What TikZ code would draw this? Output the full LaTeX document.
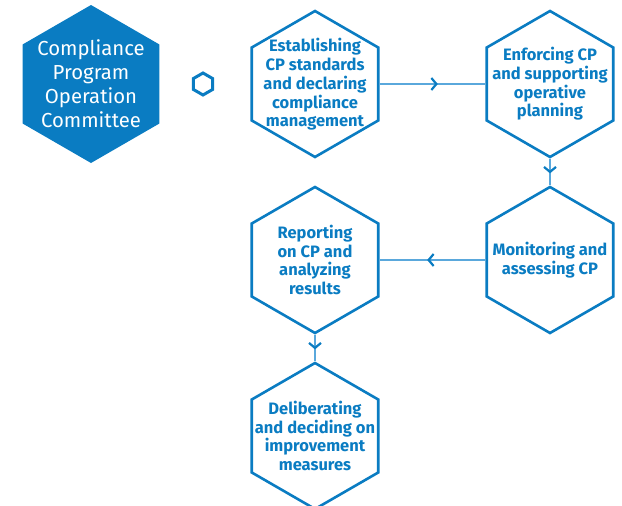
\documentclass[tikz,border=0pt]{standalone}
\usepackage{fontspec}
\setmainfont{Fira Sans}
\usetikzlibrary{shapes.geometric,arrows.meta,decorations.markings}
\definecolor{cpblue}{HTML}{0A7CC2}
\definecolor{cpline}{HTML}{5AA8DC}
\begin{document}
\begin{tikzpicture}[x=1pt,y=-1pt,
  hexo/.style={regular polygon,regular polygon sides=6,shape border rotate=30,
    minimum size=146pt,inner sep=0pt,draw=cpblue,line width=2.6pt},
  hexf/.style={regular polygon,regular polygon sides=6,shape border rotate=30,
    minimum size=158pt,inner sep=0pt,fill=cpblue},
  hexs/.style={regular polygon,regular polygon sides=6,shape border rotate=30,
    minimum size=22pt,inner sep=0pt,draw=cpblue,line width=3pt},
  txt/.style={align=center,text=cpblue,font=\bfseries\fontsize{16.5}{18.7}\selectfont,inner sep=0pt},
  wtxt/.style={align=center,text=white,font=\fontsize{20.3}{24}\selectfont,inner sep=0pt},
  flow/.style={draw=cpline,line width=1.4pt,postaction={decorate},
    decoration={markings,mark=at position 0.55 with {\arrow[cpblue,line width=2.2pt]{Straight Barb[length=5pt,width=12pt]}}}}
]
\useasboundingbox (0,0) rectangle (622,506);
\node[hexf] (cpoc) at (91,84) {};
\node[wtxt] (cpoct) at (91,84) {Compliance\\Program\\Operation\\Committee};
\node[hexs] (dot) at (203,84) {};

\node[hexo] (h1) at (315,84) {};
\node[txt] (t1) at (315,84.5) {Establishing\\CP standards\\and declaring\\compliance\\management};
\node[hexo] (h2) at (550,84) {};
\node[txt] (t2) at (550,84) {Enforcing CP\\and supporting\\operative\\planning};
\node[hexo] (h3) at (550,260) {};
\node[txt] (t3) at (550,260) {Monitoring and\\assessing CP};
\node[hexo] (h4) at (315,260) {};
\node[txt] (t4) at (315,260) {Reporting\\on CP and\\analyzing\\results};
\node[hexo] (h5) at (315,436) {};
\node[txt] (t5) at (315,436) {Deliberating\\and deciding on\\improvement\\measures};

\draw[flow] (h1.east) -- (h2.west);
\draw[flow] (h2.south) -- (h3.north);
\draw[flow] (h3.west) -- (h4.east);
\draw[flow] (h4.south) -- (h5.north);
\end{tikzpicture}
\end{document}
